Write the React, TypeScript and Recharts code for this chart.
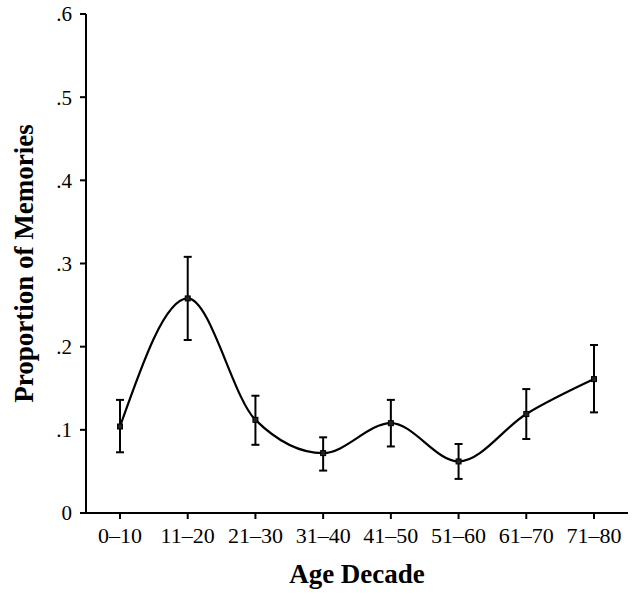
import { LineChart, Line, XAxis, YAxis, ErrorBar } from 'recharts';

const FONT = "'Liberation Serif', 'Times New Roman', serif";

const decades = ['0–10', '11–20', '21–30', '31–40', '41–50', '51–60', '61–70', '71–80'];
const proportion = [0.104, 0.258, 0.112, 0.072, 0.108, 0.062, 0.119, 0.161];
const lower = [0.073, 0.208, 0.082, 0.051, 0.080, 0.041, 0.089, 0.121];
const upper = [0.136, 0.308, 0.141, 0.091, 0.136, 0.083, 0.149, 0.202];
const yTicks = [0, 0.1, 0.2, 0.3, 0.4, 0.5, 0.6];

const data = decades.map((name, i) => ({
	name,
	value: proportion[i],
	err: [proportion[i] - lower[i], upper[i] - proportion[i]],
}));

const fmtY = (v: number) => (v === 0 ? '0' : v.toFixed(1).replace(/^0/, ''));

const SquareDot = (props: any) => {
	const { cx, cy, index } = props;
	if (cx == null || cy == null) return null;
	return <rect key={`d-${index}`} x={cx - 2.5} y={cy - 2.5} width={5} height={5} fill='#222' stroke='#000' strokeWidth={1} />;
};

const YLabel = (props: any) => {
	const { viewBox } = props;
	const cy = viewBox.y + viewBox.height / 2;
	return (
		<text
			x={33}
			y={cy}
			transform={`rotate(-90, 33, ${cy})`}
			textAnchor='middle'
			fontFamily={FONT}
			fontWeight='bold'
			fontSize={27}
			fill='#000'
		>
			Proportion of Memories
		</text>
	);
};

const XLabel = (props: any) => {
	const { viewBox } = props;
	const cx = viewBox.x + viewBox.width / 2;
	return (
		<text x={cx} y={583} textAnchor='middle' fontFamily={FONT} fontWeight='bold' fontSize={27} fill='#000'>
			Age Decade
		</text>
	);
};

export default function App() {
	return (
		<div style={{ position: 'absolute', left: 0, top: 0, background: '#fff' }}>
			<LineChart width={641} height={594} data={data} margin={{ top: 14, right: 13, left: 0, bottom: 0 }}>
				<XAxis
					dataKey='name'
					height={81}
					padding={{ left: 34, right: 34 }}
					stroke='#000'
					strokeWidth={2}
					tickSize={6}
					tickMargin={8}
					tick={{ fill: '#000', fontSize: 22, fontFamily: FONT }}
					interval={0}
					label={{ content: XLabel }}
				/>
				<YAxis
					width={86}
					domain={[0, 0.6]}
					ticks={yTicks}
					tickFormatter={fmtY}
					stroke='#000'
					strokeWidth={2}
					tickSize={6}
					tickMargin={8}
					tick={{ fill: '#000', fontSize: 21, fontFamily: FONT }}
					label={{ content: YLabel }}
				/>
				<Line
					type='monotone'
					dataKey='value'
					stroke='#000'
					strokeWidth={2.2}
					dot={SquareDot}
					activeDot={false}
					isAnimationActive={false}
				>
					<ErrorBar dataKey='err' width={4} stroke='#000' strokeWidth={2} direction='y' isAnimationActive={false} />
				</Line>
			</LineChart>
		</div>
	);
}
